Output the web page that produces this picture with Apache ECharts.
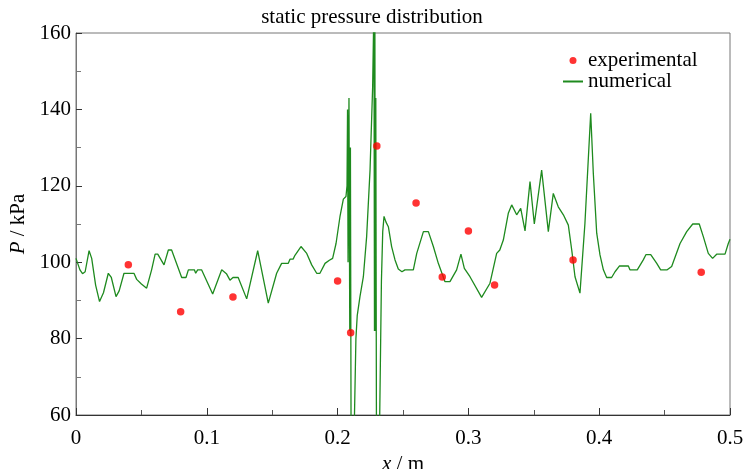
<!DOCTYPE html>
<html>
<head>
<meta charset="utf-8">
<script src="https://cdn.jsdelivr.net/npm/echarts@6/dist/echarts.min.js"></script>
<style>
  html, body { margin: 0; padding: 0; background: #fff; }
  #chart { width: 744px; height: 469px; }
</style>
</head>
<body>
<div id="chart"></div>
<script>
// numerical result, [x (m), P (kPa)]
var numX = [
  0.000, 0.003, 0.005, 0.007, 0.010, 0.012, 0.015, 0.018, 0.021, 0.0247,
  0.027, 0.0306, 0.033, 0.0367, 0.0443, 0.0464, 0.050, 0.054, 0.0578, 0.0605,
  0.0625, 0.0673, 0.0706, 0.0731, 0.0808, 0.0841, 0.0859, 0.0905, 0.0915, 0.093,
  0.096, 0.1045, 0.1114, 0.115, 0.1177, 0.120, 0.124, 0.1305, 0.1389, 0.147,
  0.1534, 0.1572, 0.1623, 0.1636, 0.166, 0.1674, 0.1687, 0.172, 0.1764, 0.1802,
  0.184, 0.1865, 0.1904, 0.1937, 0.1962, 0.1988, 0.2018, 0.2044, 0.2064, 0.2072,
  0.2076, 0.208, 0.2087, 0.2093, 0.2098, 0.2104, 0.2115, 0.2128, 0.214, 0.215,
  0.2171, 0.2197, 0.2222, 0.2248, 0.2268, 0.2278, 0.2282, 0.2285, 0.2288, 0.2292,
  0.2298, 0.231, 0.2322, 0.2335, 0.2345, 0.2355, 0.237, 0.2388, 0.2413, 0.2439,
  0.2464, 0.2492, 0.2515, 0.2579, 0.2605, 0.2656, 0.2694, 0.2732, 0.277, 0.2821,
  0.2859, 0.291, 0.2943, 0.2969, 0.3012, 0.3101, 0.3165, 0.3216, 0.324, 0.3267,
  0.3305, 0.3331, 0.3369, 0.340, 0.3433, 0.3471, 0.3504, 0.356, 0.3611, 0.3649,
  0.3687, 0.3726, 0.3764, 0.379, 0.3815, 0.3853, 0.3891, 0.3935, 0.3955, 0.3981,
  0.4006, 0.4032, 0.4057, 0.4095, 0.4121, 0.4154, 0.4223, 0.4235, 0.4291, 0.4337,
  0.4358, 0.4394, 0.444, 0.447, 0.452, 0.4554, 0.4618, 0.4669, 0.4715, 0.4765,
  0.4796, 0.4834, 0.4867, 0.4898, 0.4962, 0.4987, 0.500
];
var numP = [
  101, 98, 97, 97.5, 103, 101, 94, 89.7, 92, 97.1,
  96, 91, 92.5, 97.1, 97.1, 95.5, 94.3, 93.2, 98, 102.1,
  102.1, 99.3, 103.2, 103.2, 96, 96, 98, 98, 97.1, 98,
  98, 91.7, 98, 97, 95.3, 96, 96, 90.4, 103, 89.3,
  97.1, 99.7, 99.7, 100.8, 100.8, 101.8, 101.8, 104.1, 102.3, 99.3,
  97.1, 97.1, 99.7, 100.5, 101, 104.9, 111.9, 116.5, 117.2, 120,
  140, 100, 143, 82, 130, 40, 20, 58, 80, 86,
  91, 96.2, 106.7, 124.1, 146, 168, 82, 165, 82, 143,
  40, 30, 60, 95, 108, 112, 110.5, 109.3, 104.1, 100.6,
  98.2, 97.5, 98, 98, 102.3, 108, 108, 104.1, 99.7, 94.9,
  94.9, 98, 102.1, 98.4, 96.2, 90.8, 94.5, 102.3, 103.2, 105.8,
  112.8, 115, 112.4, 114.1, 108.2, 121.1, 110, 124.1, 108, 118,
  114.5, 112.4, 109.7, 103.2, 96.2, 91.9, 110.2, 139, 123.3, 107.6,
  101.9, 98, 96, 96, 97.5, 99, 99, 98, 98, 100.6,
  102, 102, 99.7, 98, 98, 98.9, 104.9, 108, 110, 110,
  106.7, 102.3, 101, 102.1, 102.1, 104.9, 106
];

// experimental points
var expX = [0.04, 0.08, 0.12, 0.20, 0.21, 0.23, 0.26, 0.28, 0.30, 0.32, 0.38, 0.478];
var expP = [99.3, 87.0, 90.9, 95.1, 81.5, 130.4, 115.5, 96.1, 108.2, 94.0, 100.6, 97.4];

var xTicks = { min: 0, max: 0.5, interval: 0.1 };
var yTicks = { min: 60, max: 160, interval: 20 };

var FONT = 'Liberation Serif';
var FS = 21;

var numData = numX.map(function (x, i) { return [x, numP[i]]; });
var expData = expX.map(function (x, i) { return [x, expP[i]]; });

var chart = echarts.init(document.getElementById('chart'));

var option = {
  backgroundColor: '#fff',
  animation: false,
  title: {
    text: 'static pressure distribution',
    left: 'center',
    top: 2,
    textStyle: { fontFamily: FONT, fontSize: FS, fontWeight: 'normal', color: '#000' }
  },
  legend: {
    orient: 'vertical',
    left: 557,
    top: 45,
    itemWidth: 20,
    itemHeight: 7,
    itemGap: 0,
    textStyle: { fontFamily: FONT, fontSize: FS, lineHeight: 20, color: '#000' },
    data: [
      { name: 'experimental' },
      { name: 'numerical', itemStyle: { color: 'rgba(0,0,0,0)', borderWidth: 0 } }
    ]
  },
  grid: {
    left: 76, right: 14, top: 33, bottom: 54,
    outerBoundsMode: 'none',
    containLabel: false,
    show: true,
    borderColor: '#777',
    borderWidth: 1,
    backgroundColor: 'transparent'
  },
  xAxis: {
    type: 'value',
    min: xTicks.min, max: xTicks.max, interval: xTicks.interval,
    name: '{i|x} / m',
    nameLocation: 'middle',
    nameGap: 38,
    nameTextStyle: {
      fontFamily: FONT, fontSize: FS, color: '#000',
      rich: { i: { fontFamily: FONT, fontSize: FS, fontStyle: 'italic', color: '#000' } }
    },
    axisLine: { lineStyle: { color: '#333', width: 1 } },
    axisTick: { inside: true, length: 7, lineStyle: { color: '#333' } },
    minorTick: { show: true, splitNumber: 2, length: 5, lineStyle: { color: '#555' } },
    splitLine: { show: false },
    axisLabel: { fontFamily: FONT, fontSize: FS, color: '#000', margin: 13 }
  },
  yAxis: {
    type: 'value',
    min: yTicks.min, max: yTicks.max, interval: yTicks.interval,
    name: '{i|P} / kPa',
    nameLocation: 'middle',
    nameRotate: 90,
    nameGap: 41,
    nameTextStyle: {
      fontFamily: FONT, fontSize: FS, color: '#000',
      rich: { i: { fontFamily: FONT, fontSize: FS, fontStyle: 'italic', color: '#000' } }
    },
    axisLine: { lineStyle: { color: '#777', width: 1 } },
    axisTick: { inside: true, length: 6, lineStyle: { color: '#333' } },
    minorTick: { show: true, splitNumber: 2, length: 5, lineStyle: { color: '#777' } },
    splitLine: { show: false },
    axisLabel: { fontFamily: FONT, fontSize: FS, color: '#000', margin: 5 }
  },
  series: [
    {
      name: 'experimental',
      type: 'scatter',
      data: expData,
      symbol: 'circle',
      symbolSize: 7.5,
      itemStyle: { color: '#ff0000' },
      z: 3
    },
    {
      name: 'numerical',
      type: 'line',
      data: numData,
      symbol: 'none',
      clip: true,
      lineStyle: { color: '#1e8a1e', width: 1.3 },
      itemStyle: { color: '#1e8a1e' },
      z: 2
    }
  ]
};

chart.setOption(option);
</script>
</body>
</html>
